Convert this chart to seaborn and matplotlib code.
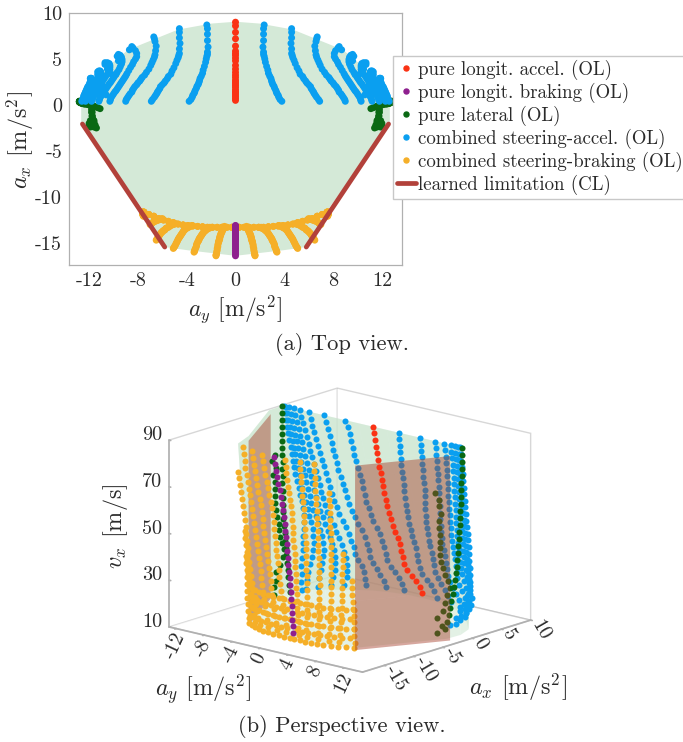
import matplotlib
matplotlib.use("Agg")
import matplotlib.pyplot as plt
from matplotlib.lines import Line2D
from mpl_toolkits.mplot3d.art3d import Poly3DCollection
import pandas as pd
import seaborn as sns

sns.set_theme(style="white")
plt.rcParams['font.family'] = ['cmr10', 'DejaVu Serif']
plt.rcParams['mathtext.fontset'] = 'cm'
plt.rcParams['axes.unicode_minus'] = False
plt.rcParams['axes.formatter.use_mathtext'] = True

COLOR_RED = '#fa3214'
COLOR_PURPLE = '#8e1f8e'
COLOR_GREEN = '#0a6914'
COLOR_BLUE = '#0a9ff0'
COLOR_ORANGE = '#f5af28'
COLOR_LIMIT = '#b2413a'
COLOR_AXES = '#b0b0b0'
COLOR_TEXT = '#2a2a2a'

# speed levels of the sweeps [m/s]
vel = [90, 87, 84, 81, 78, 75, 72, 69, 66, 63, 60, 57, 54, 51, 48, 45, 42, 39, 36, 33, 30, 27, 24, 21, 18, 15, 12]

red_ax = [.5, .7, .9, 1.1, 1.3, 1.45, 1.65, 1.9, 2.1, 2.3, 2.5, 2.7, 3.0, 3.25, 3.55, 3.9, 4.3, 4.8, 5.1, 5.4, 5.6, 5.85, 6.4, 7.2, 7.9, 8.6, 9.0]
purple_ax = [-16.4, -16.2, -16, -15.8, -15.6, -15.4, -15.2, -15.0, -14.8, -14.6, -14.5, -14.4, -14.3, -14.2, -14.1, -14.0, -13.9, -13.8, -13.7, -13.6, -13.5, -13.4, -13.3, -13.25, -13.2, -13.15, -13.1]

# blue sweeps (right side, the left side is the same with ay negated)
blue_ay = [
    [3.8, 3.65, 3.55, 3.5, 3.4, 3.35, 3.3, 3.2, 3.15, 3.05, 3.0, 2.95, 2.9, 2.8, 2.7, 2.65, 2.55, 2.45, 2.4, 2.35, 2.3, 2.3, 2.25, 2.3, 2.3, 2.3, 2.35],
    [6.9, 6.8, 6.65, 6.55, 6.45, 6.4, 6.3, 6.2, 6.15, 6.0, 5.85, 5.75, 5.6, 5.5, 5.3, 5.2, 5.05, 4.9, 4.8, 4.7, 4.65, 4.6, 4.6, 4.55, 4.6, 4.6, 4.6],
    [9.0, 8.95, 8.85, 8.75, 8.65, 8.5, 8.45, 8.35, 8.25, 8.1, 8.0, 7.85, 7.75, 7.65, 7.45, 7.3, 7.1, 6.95, 6.85, 6.75, 6.65, 6.6, 6.55, 6.5, 6.6, 6.65, 6.7],
    [10.3, 10.25, 10.2, 10.1, 10.0, 9.9, 9.8, 9.7, 9.6, 9.5, 9.4, 9.3, 9.2, 9.1, 9.0, 8.9, 8.75, 8.6, 8.45, 8.35, 8.2, 8.1, 8.1, 8.2, 8.4, 8.5, 8.7],
    [11.2, 11.15, 11.1, 11.0, 10.95, 10.85, 10.75, 10.65, 10.55, 10.45, 10.35, 10.25, 10.15, 10.05, 9.95, 9.8, 9.7, 9.55, 9.45, 9.35, 9.3, 9.3, 9.35, 9.45, 9.6, 9.7, 9.6],
    [11.8, 11.75, 11.7, 11.65, 11.55, 11.5, 11.4, 11.35, 11.25, 11.2, 11.1, 11.0, 10.95, 10.85, 10.75, 10.65, 10.5, 10.4, 10.3, 10.3, 10.3, 10.35, 10.5, 10.7, 10.7, 10.5, 10.1],
    [12.3, 12.25, 12.2, 12.15, 12.1, 12.0, 11.95, 11.9, 11.85, 11.75, 11.7, 11.6, 11.55, 11.45, 11.4, 11.3, 11.2, 11.15, 11.05, 11.05, 11.1, 11.2, 11.3, 11.3, 11.2, 11.0, 10.7],
    [12.6, 12.55, 12.5, 12.45, 12.45, 12.4, 12.35, 12.3, 12.25, 12.2, 12.15, 12.1, 12.0, 11.95, 11.85, 11.8, 11.8, 11.8, 11.85, 11.9, 11.9, 11.85, 11.75, 11.6, 11.3, 11.0, 10.6],
]
blue_ax = [
    [.4, .6, .85, 1.05, 1.25, 1.4, 1.6, 1.85, 2.05, 2.25, 2.45, 2.65, 2.9, 3.15, 3.45, 3.8, 4.2, 4.65, 5.0, 5.3, 5.5, 5.75, 6.3, 7.0, 7.7, 8.3, 8.7],
    [.4, .6, .85, 1.05, 1.25, 1.4, 1.6, 1.8, 2.0, 2.2, 2.4, 2.6, 2.85, 3.1, 3.35, 3.7, 4.05, 4.5, 4.85, 5.15, 5.4, 5.6, 6.1, 6.7, 7.3, 7.9, 8.3],
    [.4, .6, .8, 1.0, 1.2, 1.4, 1.6, 1.8, 2.0, 2.2, 2.4, 2.6, 2.8, 3.0, 3.25, 3.55, 3.9, 4.3, 4.6, 4.9, 5.2, 5.45, 5.9, 6.4, 6.9, 7.2, 7.4],
    [.4, .6, .8, 1.0, 1.2, 1.4, 1.55, 1.75, 1.95, 2.15, 2.35, 2.55, 2.75, 2.95, 3.15, 3.4, 3.75, 4.1, 4.4, 4.7, 5.0, 5.25, 5.6, 5.9, 6.2, 6.35, 6.0],
    [.4, .6, .8, 1.0, 1.15, 1.35, 1.5, 1.7, 1.9, 2.1, 2.3, 2.45, 2.65, 2.85, 3.05, 3.3, 3.55, 3.85, 4.15, 4.45, 4.7, 4.95, 5.2, 5.4, 5.5, 5.3, 4.8],
    [.4, .55, .75, .95, 1.1, 1.3, 1.45, 1.6, 1.8, 1.95, 2.15, 2.3, 2.5, 2.7, 2.9, 3.1, 3.35, 3.6, 3.85, 4.1, 4.3, 4.5, 4.6, 4.6, 4.4, 3.9, 3.3],
    [.4, .55, .7, .85, 1.0, 1.2, 1.35, 1.5, 1.65, 1.8, 2.0, 2.15, 2.3, 2.5, 2.7, 2.9, 3.1, 3.3, 3.5, 3.6, 3.7, 3.7, 3.6, 3.3, 2.9, 2.4, 1.9],
    [.4, .5, .65, .8, .95, 1.1, 1.25, 1.4, 1.55, 1.7, 1.85, 2.0, 2.2, 2.4, 2.6, 2.75, 2.85, 2.9, 2.9, 2.9, 2.85, 2.7, 2.5, 2.2, 1.9, 1.5, 1.1],
]

# orange sweeps, the outer ones stop at a lower speed
orange_vel = [vel, vel, vel, vel[4:], vel[13:], vel[17:]]
orange_ay = [
    [1.6, 1.6, 1.55, 1.55, 1.5, 1.5, 1.45, 1.45, 1.4, 1.4, 1.35, 1.35, 1.3, 1.3, 1.3, 1.25, 1.25, 1.2, 1.2, 1.15, 1.1, 1.1, 1.05, 1.0, .95, .9, .9],
    [3.4, 3.35, 3.35, 3.3, 3.25, 3.2, 3.2, 3.15, 3.1, 3.05, 3.0, 3.0, 2.95, 2.9, 2.85, 2.8, 2.75, 2.7, 2.65, 2.6, 2.55, 2.5, 2.4, 2.35, 2.25, 2.15, 2.1],
    [5.1, 5.05, 5.0, 4.95, 4.9, 4.85, 4.8, 4.75, 4.7, 4.65, 4.6, 4.55, 4.5, 4.45, 4.4, 4.35, 4.3, 4.25, 4.2, 4.15, 4.1, 4.0, 3.95, 3.85, 3.8, 3.7, 3.6],
    [6.5, 6.45, 6.4, 6.35, 6.3, 6.25, 6.2, 6.15, 6.1, 6.05, 6.0, 5.95, 5.9, 5.8, 5.75, 5.7, 5.6, 5.5, 5.4, 5.3, 5.2, 5.05, 4.9],
    [7.0, 6.95, 6.9, 6.85, 6.8, 6.75, 6.7, 6.6, 6.5, 6.4, 6.3, 6.2, 6.1, 6.0],
    [7.55, 7.55, 7.55, 7.6, 7.6, 7.6, 7.6, 7.6, 7.6, 7.6],
]
orange_ax = [
    [-16.4, -16.3, -16.2, -16.0, -15.8, -15.6, -15.4, -15.2, -15.0, -14.9, -14.8, -14.7, -14.6, -14.5, -14.4, -14.3, -14.2, -14.1, -14.0, -13.9, -13.8, -13.7, -13.6, -13.5, -13.4, -13.3, -13.2],
    [-16.0, -15.9, -15.8, -15.65, -15.5, -15.35, -15.2, -15.05, -14.9, -14.8, -14.7, -14.6, -14.5, -14.4, -14.3, -14.2, -14.1, -14.0, -13.9, -13.8, -13.75, -13.7, -13.6, -13.5, -13.45, -13.4, -13.3],
    [-15.6, -15.5, -15.4, -15.3, -15.15, -15.0, -14.9, -14.75, -14.6, -14.5, -14.4, -14.3, -14.2, -14.1, -14.0, -13.9, -13.8, -13.7, -13.6, -13.55, -13.5, -13.4, -13.35, -13.3, -13.25, -13.2, -13.1],
    [-14.7, -14.6, -14.5, -14.4, -14.3, -14.2, -14.1, -14.0, -13.9, -13.85, -13.8, -13.7, -13.65, -13.6, -13.5, -13.4, -13.35, -13.3, -13.2, -13.1, -13.05, -13.0, -12.9],
    [-13.0, -12.95, -12.9, -12.85, -12.8, -12.75, -12.7, -12.65, -12.6, -12.55, -12.5, -12.45, -12.4, -12.35],
    [-12.1, -12.05, -12.0, -11.95, -11.9, -11.85, -11.8, -11.75, -11.7, -11.6],
]

# low speed braking arc: each speed row takes every other point, staggered
arc_vel = [10, 14, 18, 22, 26]
arc_ay = [0.3, 0.7, 1.1, 1.5, 1.9, 2.3, 2.7, 3.1, 3.5, 3.9, 4.3, 4.7, 5.1, 5.5, 5.9, 6.3, 6.7, 7.1, 7.5]
arc_ax = [-13.3, -13.3, -13.3, -13.3, -13.3, -13.3, -13.25, -13.2, -13.15, -13.1, -13.05, -12.95, -12.8, -12.65, -12.5, -12.35, -12.1, -11.9, -11.65]

green_vel = [vel, vel[6:]]
green_ay = [
    [12.8, 12.8, 12.8, 12.8, 12.8, 12.8, 12.75, 12.75, 12.7, 12.7, 12.65, 12.65, 12.6, 12.6, 12.5, 12.5, 12.4, 12.3, 12.2, 12.1, 12.0, 11.9, 11.7, 11.6, 11.5, 11.3, 11.1],
    [11.4, 11.9, 11.6, 12.0, 11.7, 11.7, 11.75, 11.75, 11.7, 11.6, 11.6, 11.7, 11.75, 11.8, 11.8, 11.75, 11.75, 11.9, 11.5, 12.0, 11.6],
]
green_ax = [
    [.4, .4, .4, .35, .35, .3, .3, .3, .3, .25, .25, .2, .2, .2, .15, .15, .1, .1, .1, .05, .0, -.05, -.1, -.15, -.2, -.3, -.4],
    [-2.5, -2.4, -2.1, -2.2, -2.2, -2.2, -2.1, -2.1, -2.0, -1.9, -1.7, -1.5, -1.2, -.8, -.5, -.8, -1.2, -1.7, -2.2, -2.0, -2.4],
]

# learned limitation lines in the top view
limit_ay = [12.55, 5.8]
limit_ax = [-2.07, -15.45]

# outline of the reachable area in the top view (right half, top to bottom)
hull_ay = [0, 2, 4.7, 8.8, 11.8, 12.65, 12.65, 7.46, 5.8, 3.9, 0]
hull_ax = [9.05, 8.85, 8.2, 6, 2.7, .2, -2.07, -11.6, -15.45, -15.8, -16.4]

# envelope surface in the 3D view at some speeds
env_vel = [90, 70, 50, 30, 10]
env_dome_ay = [12.8, 12, 10, 8, 6, 4, 2, 0]
env_dome_ax = [
    [.4, .5, .5, .5, .5, .5, .5, .5],
    [.3, .8, 1.5, 1.8, 1.9, 1.9, 1.9, 1.9],
    [.2, 1.7, 3, 3.4, 3.4, 3.4, 3.4, 3.4],
    [.2, 2.8, 4.6, 5.6, 5.7, 5.7, 5.7, 5.7],
    [.2, 2.5, 4.6, 6.4, 7.7, 8.5, 8.9, 9.0],
]
env_low_ay = [12.7, 7.6, 6.5, 5, 3.4, 1.6, 0]
env_low_ax = [
    [-2, -11.6, -14.7, -15.7, -16, -16.4, -16.4],
    [-2, -11.6, -14.2, -15, -15.4, -15.6, -15.6],
    [-2, -11.6, -13.2, -14.2, -14.6, -14.8, -14.9],
    [-2, -11.6, -12.7, -13.4, -13.7, -13.9, -14],
    [-2, -11.6, -12.1, -12.8, -13.1, -13.3, -13.3],
]
# learned limitation planes in the 3D view
plane_ay = [7.6, 12.8]
plane_ax = [-11.6, -1.6]
plane_vel = [9, 88]

PALETTE = {'red': COLOR_RED, 'purple': COLOR_PURPLE, 'green': COLOR_GREEN,
           'blue': COLOR_BLUE, 'orange': COLOR_ORANGE}
LABELS = ['pure longit. accel. (OL)', 'pure longit. braking (OL)', 'pure lateral (OL)',
          'combined steering-accel. (OL)', 'combined steering-braking (OL)']


def add_rows(rows, tipo, ay, ax, vx):
    for a, b, c in zip(ay, ax, vx):
        rows.append({'tipo': tipo, 'ay': a, 'ax': b, 'vx': c})


def build_table():
    rows = []
    for lato in (1, -1):
        for ay, ax, vv in zip(green_ay, green_ax, green_vel):
            add_rows(rows, 'green', [lato * a for a in ay], ax, vv)
    for lato in (1, -1):
        for ay, ax in zip(blue_ay, blue_ax):
            add_rows(rows, 'blue', [lato * a for a in ay], ax, vel)
    for lato in (1, -1):
        for ay, ax, vv in zip(orange_ay, orange_ax, orange_vel):
            add_rows(rows, 'orange', [lato * a for a in ay], ax, vv)
        for r, v in enumerate(arc_vel):
            riga_ay = arc_ay[r % 2::2]
            add_rows(rows, 'orange', [lato * a for a in riga_ay], arc_ax[r % 2::2], [v] * len(riga_ay))
    add_rows(rows, 'purple', [0] * len(vel), purple_ax, vel)
    add_rows(rows, 'red', [0] * len(vel), red_ax, vel)
    return pd.DataFrame(rows)


def px_rect(left, top, width, height):
    return [left / 683, 1 - (top + height) / 742, width / 683, height / 742]


df = build_table()
fig = plt.figure(figsize=(6.83, 7.42), dpi=100)

# --- TOP VIEW ---
ax_top = fig.add_axes(px_rect(69, 13, 333, 252))
ax_top.fill(hull_ay + [-a for a in hull_ay[::-1]], hull_ax + hull_ax[::-1],
            color='#d4e9d7', linewidth=0, zorder=1)
sns.scatterplot(data=df, x='ay', y='ax', hue='tipo', palette=PALETTE, s=25, linewidth=0,
                legend=False, ax=ax_top, zorder=2)
for lato in (1, -1):
    sns.lineplot(x=[lato * a for a in limit_ay], y=limit_ax, color=COLOR_LIMIT, linewidth=3.4,
                 sort=False, estimator=None, ax=ax_top, zorder=3)
ax_top.set_xlim(-13.65, 13.65)
ax_top.set_ylim(-17.4, 10)
ax_top.set_xticks([-12, -8, -4, 0, 4, 8, 12], labels=['-12', '-8', '-4', '0', '4', '8', '12'])
ax_top.set_yticks([-15, -10, -5, 0, 5, 10], labels=['-15', '-10', '-5', '0', '5', '10'])
ax_top.tick_params(direction='in', length=3, width=0.8, color=COLOR_AXES, labelsize=14.5,
                   labelcolor=COLOR_TEXT, pad=5)
ax_top.set_xlabel('')
ax_top.set_ylabel('')
for spine in ax_top.spines.values():
    spine.set_color(COLOR_AXES)
    spine.set_linewidth(0.9)

handles = [Line2D([], [], marker='o', linestyle='', markersize=3.6, color=PALETTE[t])
           for t in ['red', 'purple', 'green', 'blue', 'orange']]
handles.append(Line2D([], [], color=COLOR_LIMIT, linewidth=3.4))
legenda = ax_top.legend(handles, LABELS + ['learned limitation (CL)'], loc='upper left',
                        bbox_to_anchor=(393 / 683, 1 - 56 / 742), bbox_transform=fig.transFigure,
                        borderaxespad=0, fancybox=False, framealpha=1, edgecolor='#c8c8c8',
                        fontsize=13.6, labelspacing=0.145, handlelength=1.0, handletextpad=0.12,
                        borderpad=0.2, labelcolor=COLOR_TEXT)
legenda.set_zorder(10)

fig.text(20 / 683, 1 - 140 / 742, r'$a_x$ [m/s$^2$]', rotation=90, ha='center', va='center',
         fontsize=17.5, color=COLOR_TEXT)
fig.text(235 / 683, 1 - 309 / 742, r'$a_y$ [m/s$^2$]', ha='center', va='center',
         fontsize=17, color=COLOR_TEXT)
fig.text(342 / 683, 1 - 345 / 742, '(a) Top view.', ha='center', va='center',
         fontsize=16.2, color=COLOR_TEXT)
fig.text(342 / 683, 1 - 727 / 742, '(b) Perspective view.', ha='center', va='center',
         fontsize=16.2, color=COLOR_TEXT)

# --- PERSPECTIVE VIEW ---
ax_3d = fig.add_axes(px_rect(145, 336, 399, 399), projection='3d', computed_zorder=False)
ax_3d.patch.set_alpha(0)
ax_3d.set_proj_type('ortho')
ax_3d.view_init(elev=15.6, azim=-49)
ax_3d.set_box_aspect((255, 255, 193))
ax_3d.set_xlim(-13, 14.6, view_margin=0)
ax_3d.set_ylim(-18.7, 9.9, view_margin=0)
ax_3d.set_zlim(10, 90, view_margin=0)

# envelope rings
anelli = []
for dome, low in zip(env_dome_ax, env_low_ax):
    ring_ay = env_dome_ay + [-a for a in env_dome_ay[::-1][1:]] + [-a for a in env_low_ay] + env_low_ay[::-1][1:]
    ring_ax = dome + dome[::-1][1:] + low + low[::-1][1:]
    anelli.append((ring_ay, ring_ax))
facce = []
for k in range(len(env_vel) - 1):
    ay_a, ax_a = anelli[k]
    ay_b, ax_b = anelli[k + 1]
    n = len(ay_a)
    for i in range(n):
        j = (i + 1) % n
        facce.append([(ay_a[i], ax_a[i], env_vel[k]), (ay_a[j], ax_a[j], env_vel[k]),
                      (ay_b[j], ax_b[j], env_vel[k + 1]), (ay_b[i], ax_b[i], env_vel[k + 1])])
facce.append([(a, b, env_vel[0]) for a, b in zip(*anelli[0])])
ax_3d.add_collection3d(Poly3DCollection(facce, facecolors=(200 / 255, 228 / 255, 205 / 255, 0.5),
                                        edgecolors='none', zorder=1))


def piano(lato):
    return [(lato * plane_ay[0], plane_ax[0], plane_vel[0]), (lato * plane_ay[1], plane_ax[1], plane_vel[0]),
            (lato * plane_ay[1], plane_ax[1], plane_vel[1]), (lato * plane_ay[0], plane_ax[0], plane_vel[1])]


COLOR_PLANE = (165 / 255, 60 / 255, 40 / 255, 0.45)
ax_3d.add_collection3d(Poly3DCollection([piano(-1)], facecolors=COLOR_PLANE, edgecolors='none', zorder=2))


def punti(tipo, z):
    sub = df[df['tipo'] == tipo]
    ax_3d.scatter(sub['ay'], sub['ax'], sub['vx'], color=PALETTE[tipo], s=19, linewidth=0,
                  depthshade=False, zorder=z)


punti('blue', 3)
punti('green', 4)
punti('orange', 5)
ax_3d.add_collection3d(Poly3DCollection([piano(1)], facecolors=COLOR_PLANE, edgecolors='none', zorder=6))
punti('purple', 7)
punti('red', 8)

ax_3d.grid(False)
for asse in (ax_3d.xaxis, ax_3d.yaxis, ax_3d.zaxis):
    asse.pane.set_facecolor((1, 1, 1, 0))
    asse.pane.set_edgecolor(COLOR_AXES)
    asse.line.set_color(COLOR_AXES)
    asse._axinfo['tick']['inward_factor'] = 0.1
    asse._axinfo['tick']['outward_factor'] = 0.0
ax_3d.zaxis._axinfo['juggled'] = (1, 2, 0)
ax_3d.set_xticks([-12, -8, -4, 0, 4, 8, 12], labels=['-12', '-8', '-4', '0', '4', '8', '12'])
ax_3d.set_yticks([-15, -10, -5, 0, 5, 10], labels=['-15', '-10', '-5', '0', '5', '10'])
ax_3d.set_zticks([10, 30, 50, 70, 90], labels=['10', '30', '50', '70', '90'])
ax_3d.tick_params(axis='both', colors=COLOR_AXES, labelsize=14.5, labelcolor=COLOR_TEXT)
ax_3d.tick_params(axis='x', labelrotation=65, pad=-7)
ax_3d.tick_params(axis='y', labelrotation=-60, pad=-10)
ax_3d.tick_params(axis='z', pad=-5)
for etichetta in ax_3d.get_yticklabels():
    etichetta.set_ha('left')
for etichetta in ax_3d.get_zticklabels():
    etichetta.set_ha('right')
    etichetta.set_va('baseline')

fig.text(203 / 683, 1 - 690 / 742, r'$a_y$ [m/s$^2$]', ha='center', va='center',
         fontsize=17.5, color=COLOR_TEXT)
fig.text(518 / 683, 1 - 687 / 742, r'$a_x$ [m/s$^2$]', ha='center', va='center',
         fontsize=17.5, color=COLOR_TEXT)
fig.text(115 / 683, 1 - 526 / 742, r'$v_x$ [m/s]', rotation=90, ha='center', va='center',
         fontsize=17.5, color=COLOR_TEXT)

fig.savefig('out.png', dpi=100)
